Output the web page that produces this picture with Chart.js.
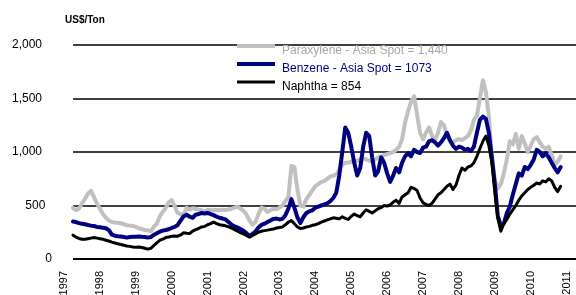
<!DOCTYPE html>
<html>
<head>
<meta charset="utf-8">
<script src="https://cdn.jsdelivr.net/npm/chart.js@4/dist/chart.umd.min.js"></script>
<style>
  html, body { margin: 0; padding: 0; background: #fff; }
  #wrap { width: 576px; height: 295px; }
</style>
</head>
<body>
<div id="wrap"><canvas id="myChart" width="576" height="295"></canvas></div>
<script>
// monthly series, Apr 1997 .. Dec 2010 (US$/ton)
const startYear = 1997;
const startMonth = 3; // April (0 = Jan)

const paraxylene = [
  478,455,470,520,560,610,637,580,520,470,420,385,360,345,340,338,334,325,315,312,309,300,287,280,272,268,258,300,330,398,440,478,530,550,494,430,420,414,480,462,475,470,462,455,446,
  460,457,455,457,455,460,458,463,470,480,488,470,450,415,360,320,345,420,480,470,440,455,470,465,480,500,540,580,870,860,650,500,490,560,600,640,680,700,720,730,750,770,780,
  790,830,880,900,900,910,900,920,930,940,930,920,910,930,950,960,970,980,990,1000,1020,1050,1120,1275,1380,1470,1520,1350,1180,1120,1180,1230,1150,1110,1180,1280,1250,1150,1100,1090,1110,1120,
  1110,1130,1150,1200,1300,1340,1500,1670,1560,1330,950,740,660,700,800,930,1100,1070,1170,1030,1150,1080,1000,1060,1120,1140,1090,1050,1030,1050,970,880,910,960
];

const benzene = [
  350,345,335,330,325,318,312,308,300,296,292,287,270,228,218,213,210,205,200,205,207,207,210,207,205,200,205,225,240,255,265,271,278,290,300,318,360,400,414,395,385,414,420,430,425,
  430,420,410,395,385,378,370,345,320,305,295,280,265,240,215,235,255,295,320,330,345,360,375,378,370,375,410,470,560,480,390,335,390,430,445,455,480,490,500,510,520,540,570,620,
  780,1000,1230,1180,1050,900,780,850,1050,1180,1150,950,780,820,950,900,800,720,780,850,810,900,960,990,960,1020,1000,990,1040,1050,1100,1110,1090,1060,1090,1130,1180,1110,1060,1030,1050,1040,
  1020,1030,1010,1050,1180,1300,1330,1310,1180,950,700,400,310,330,430,490,600,700,800,780,860,840,880,930,1020,1000,960,990,950,900,850,810,860,870
];

const naphtha = [
  223,205,192,185,185,190,195,200,195,190,185,175,168,158,150,142,135,128,122,118,112,110,112,108,100,92,100,125,150,175,185,200,205,213,215,213,225,245,240,238,260,275,285,300,305,
  320,330,345,330,320,315,310,300,290,275,260,245,235,220,205,220,235,250,260,265,270,275,280,290,295,300,320,345,360,330,300,285,290,300,305,315,320,330,345,355,365,375,385,380,
  375,395,380,370,400,420,405,395,430,460,445,430,450,470,480,500,495,505,530,550,520,580,600,620,670,660,640,570,525,510,500,520,560,600,620,650,680,700,650,690,780,850,
  830,860,870,900,960,1030,1100,1150,1060,900,620,380,260,330,370,420,460,500,550,590,620,650,670,690,710,700,730,720,750,730,670,630,680,660
];

const seriesNames = ['Paraxylene - Asia Spot = 1,440', 'Benzene - Asia Spot = 1073', 'Naphtha = 854'];
const seriesColors = ['#c0c0c0', '#000080', '#000000'];
const yearTicks = [1997,1998,1999,2000,2001,2002,2003,2004,2005,2006,2007,2008,2009,2010,2011];
const yTicks = [0, 500, 1000, 1500, 2000];
const unitLabel = 'US$/Ton';

const FONT = "'Liberation Sans', Arial, sans-serif";
const dates = paraxylene.map((_, i) => startYear + (startMonth + i) / 12);
const toPoints = arr => arr.map((v, i) => ({ x: dates[i], y: v }));

// the source labels are not quite right-aligned: pad the wider ones
function yLabel(v) {
  const s = v.toLocaleString('en-US');
  if (v >= 1000) return s + '\u2007 ';
  if (v > 0) return s + '\u2007';
  return s;
}

// horizontal rules start where the data starts, like the original
const rules = {
  id: 'rules',
  beforeDatasetsDraw(chart) {
    const { ctx, chartArea, scales } = chart;
    const x0 = scales.x.getPixelForValue(dates[0]);
    ctx.save();
    ctx.strokeStyle = '#000';
    yTicks.forEach(v => {
      const y = Math.round(scales.y.getPixelForValue(v));
      ctx.lineWidth = v === 0 ? 2 : 1.3;
      ctx.beginPath();
      ctx.moveTo(x0, y);
      ctx.lineTo(chartArea.right, y);
      ctx.stroke();
    });
    ctx.restore();
  }
};

const keyBox = {
  id: 'keyBox',
  afterDatasetsDraw(chart) {
    const { ctx, chartArea } = chart;
    ctx.save();
    const widths = [4, 4, 3];
    seriesNames.forEach((name, i) => {
      const y = 46 + i * 18;
      ctx.strokeStyle = seriesColors[i];
      ctx.lineWidth = widths[i];
      ctx.beginPath();
      ctx.moveTo(237, y);
      ctx.lineTo(275, y);
      ctx.stroke();
      ctx.fillStyle = i === 0 ? '#a8a8a8' : seriesColors[i];
      ctx.font = '12px ' + FONT;
      ctx.textBaseline = 'alphabetic';
      ctx.fillText(name, 282, y + 8);
    });
    ctx.fillStyle = '#000';
    ctx.font = 'bold 10px ' + FONT;
    ctx.textBaseline = 'middle';
    ctx.fillText(unitLabel, chartArea.left + 1, 20);
    ctx.restore();
  }
};

new Chart(document.getElementById('myChart'), {
  type: 'line',
  data: {
    datasets: [
      { label: seriesNames[2], data: toPoints(naphtha), borderColor: seriesColors[2], borderWidth: 3 },
      { label: seriesNames[1], data: toPoints(benzene), borderColor: seriesColors[1], borderWidth: 4 },
      { label: seriesNames[0], data: toPoints(paraxylene), borderColor: seriesColors[0], borderWidth: 4 }
    ]
  },
  options: {
    responsive: false,
    animation: false,
    devicePixelRatio: 1,
    layout: { padding: { top: 45, left: 0, right: 0, bottom: 0 } },
    elements: {
      point: { radius: 0 },
      line: { tension: 0, borderJoinStyle: 'round', borderCapStyle: 'round' }
    },
    plugins: { legend: { display: false }, tooltip: { enabled: false } },
    scales: {
      x: {
        type: 'linear',
        min: 1997,
        max: 2011.26,
        afterBuildTicks: s => { s.ticks = yearTicks.map(v => ({ value: v })); },
        afterFit: s => { s.height = 36; s.paddingLeft = 0; s.paddingRight = 0; },
        grid: { display: false, drawTicks: false },
        border: { display: false },
        ticks: {
          autoSkip: false,
          minRotation: 90,
          maxRotation: 90,
          padding: 12,
          color: '#000',
          font: { family: FONT, size: 11 },
          callback: v => String(v)
        }
      },
      y: {
        min: 0,
        max: 2000,
        afterBuildTicks: s => { s.ticks = yTicks.map(v => ({ value: v })); },
        afterFit: s => { s.width = 64; },
        grid: { display: false, drawTicks: false },
        border: { display: false },
        ticks: {
          padding: 12,
          color: '#000',
          font: { family: FONT, size: 12 },
          callback: yLabel
        }
      }
    }
  },
  plugins: [rules, keyBox]
});
</script>
</body>
</html>
